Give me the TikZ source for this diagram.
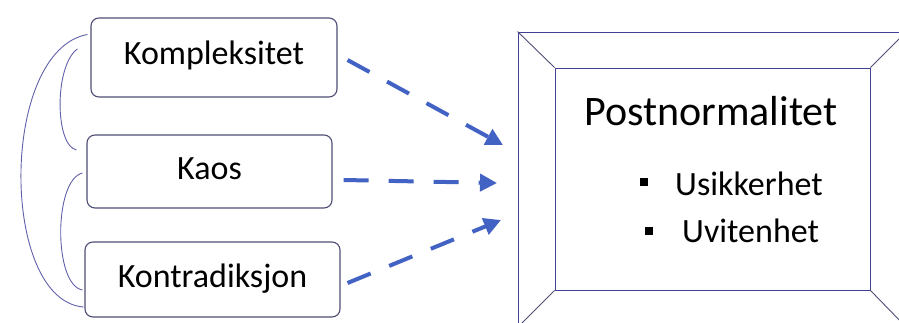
\documentclass[tikz,border=0pt]{standalone}
\usepackage{fontspec}
\setmainfont{Carlito}
\usetikzlibrary{arrows.meta}
\definecolor{kant}{RGB}{78,78,118}
\definecolor{rammefarge}{RGB}{64,64,150}
\definecolor{pilfarge}{RGB}{66,98,196}
\definecolor{buefarge}{RGB}{96,96,170}
\tikzset{
  kilde/.style={draw=kant, line width=1.1pt, rounded corners=8pt, fill=white,
    font=\fontsize{34}{40}\selectfont, text height=22pt, text depth=7pt, inner sep=0pt},
  pil/.style={pilfarge, line width=4pt, dash pattern=on 25pt off 20pt,
    -{Triangle[length=17pt,width=17pt]}},
  bue/.style={buefarge, line width=0.9pt},
  ramme/.style={draw=rammefarge, line width=0.9pt, inner sep=0pt},
  punkt/.style={fill=black, inner sep=0pt, minimum size=8pt}
}
\begin{document}
\begin{tikzpicture}[x=1pt, y=-1pt]
\useasboundingbox (0,0) rectangle (899,323);
\clip (0,0) rectangle (899,323);
\node[kilde, minimum width=246pt, minimum height=79pt] (komp) at (214,57.5) {Kompleksitet};
\node[kilde, minimum width=245pt, minimum height=73pt] (kaos) at (209.5,171.5) {Kaos};
\node[kilde, minimum width=255pt, minimum height=75pt] (kontr) at (212.5,279.5) {Kontradiksjon};
\draw[bue] ([shift={(-3,-23)}]komp.west) .. controls +(-88,16) and +(-84,-7) .. ([shift={(-1,27.5)}]kontr.west);
\draw[bue] ([shift={(-13,-8.5)}]komp.west) .. controls +(-23,16) and +(-22,-5) .. ([shift={(-10,-21.5)}]kaos.west);
\draw[bue] ([shift={(-4,1.5)}]kaos.west) .. controls +(-29,7) and +(-29,-5) .. ([shift={(-2,10.5)}]kontr.west);
\node[ramme, minimum width=388pt, minimum height=295pt] (ytre) at (712,179.5) {};
\node[ramme, minimum width=315pt, minimum height=222pt] (indre) at (712.5,179) {};
\draw[kant, line width=0.9pt] (ytre.north west) -- (indre.north west);
\draw[kant, line width=0.9pt] (ytre.north east) -- (indre.north east);
\draw[kant, line width=0.9pt] (ytre.south west) -- (indre.south west);
\draw[kant, line width=0.9pt] (ytre.south east) -- (indre.south east);
\node[font=\fontsize{42}{48}\selectfont, anchor=base, inner sep=0pt] (tittel) at (711,126) {Postnormalitet};
\node[punkt] (b1) at (644,182.5) {};
\node[punkt] (b2) at (649,231) {};
\node[font=\fontsize{34}{40}\selectfont, anchor=base west, inner sep=0pt] (usik) at (675,196) {Usikkerhet};
\node[font=\fontsize{34}{40}\selectfont, anchor=base west, inner sep=0pt] (uvit) at (682,242) {Uvitenhet};
\coordinate (m1) at (503,145);
\coordinate (m2) at (497,183);
\coordinate (m3) at (501,220);
\draw[pil] ([shift={(10,2.5)}]komp.east) -- (m1);
\draw[pil] ([shift={(11,8.5)}]kaos.east) -- (m2);
\draw[pil] ([shift={(7,3.5)}]kontr.east) -- (m3);
\end{tikzpicture}
\end{document}
